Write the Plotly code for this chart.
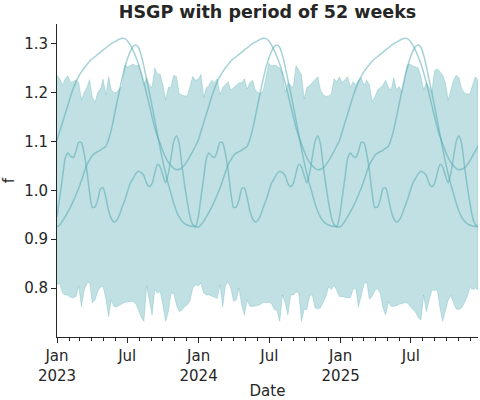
import pandas as pd
import plotly.graph_objects as go

# ---------------- data ----------------
n_weeks = 156
dates = pd.date_range("2023-01-01", periods=n_weeks, freq="W-SUN")

# band (upper / lower edge of the sample interval), read per week
band_upper = [
    1.235, 1.228, 1.215, 1.228, 1.234, 1.220, 1.222, 1.226, 1.220, 1.185,
    1.200, 1.210, 1.226, 1.190, 1.180, 1.200, 1.207, 1.227, 1.195, 1.232,
    1.205, 1.200, 1.200, 1.208, 1.212, 1.256, 1.252,
    1.255, 1.258, 1.254, 1.256, 1.237, 1.215, 1.230, 1.215, 1.210, 1.250,
    1.238, 1.237, 1.215, 1.185, 1.210, 1.212, 1.235, 1.232, 1.197, 1.195,
    1.193, 1.193, 1.213, 1.233, 1.225, 1.227, 1.237,
    1.190, 1.210, 1.215, 1.225, 1.220, 1.228, 1.195, 1.210, 1.215, 1.222,
    1.205, 1.210, 1.215,
    1.220, 1.220, 1.228, 1.207, 1.220, 1.225, 1.205, 1.200, 1.198, 1.205,
    1.230, 1.260, 1.254, 1.256, 1.254, 1.250, 1.240, 1.200, 1.220, 1.215,
    1.210, 1.255, 1.245, 1.236, 1.187, 1.210, 1.214, 1.220, 1.228, 1.232,
    1.205, 1.195, 1.192, 1.193, 1.197, 1.228, 1.222, 1.232, 1.220, 1.226,
    1.232, 1.210, 1.222, 1.215, 1.225, 1.230, 1.215, 1.225, 1.216, 1.182,
    1.190, 1.205, 1.210, 1.215, 1.225, 1.210, 1.205, 1.230, 1.205, 1.212,
    1.200, 1.225, 1.256, 1.258, 1.254, 1.252, 1.250, 1.232, 1.205, 1.220,
    1.210, 1.200, 1.245, 1.248, 1.243, 1.235, 1.220, 1.184, 1.205, 1.225,
    1.235, 1.230, 1.207, 1.199, 1.197, 1.197, 1.215, 1.232, 1.225,
]
band_lower = [
    0.807, 0.810, 0.790, 0.786, 0.786, 0.781, 0.780, 0.783, 0.805, 0.762,
    0.795, 0.810, 0.812, 0.770, 0.776, 0.793, 0.802, 0.803, 0.778, 0.742,
    0.776, 0.762, 0.762, 0.765, 0.768, 0.771, 0.772, 0.772, 0.773, 0.768,
    0.755, 0.740, 0.732, 0.805, 0.772, 0.745, 0.797, 0.790, 0.793, 0.765,
    0.732, 0.752, 0.790, 0.789, 0.765, 0.752, 0.755, 0.762, 0.766, 0.775,
    0.800, 0.807,
    0.805, 0.810, 0.790, 0.786, 0.786, 0.783, 0.781, 0.779, 0.807, 0.762,
    0.805, 0.813, 0.800, 0.773, 0.776,
    0.800, 0.765, 0.745, 0.776, 0.763, 0.7625, 0.763, 0.765, 0.767, 0.771,
    0.770, 0.771, 0.768, 0.756, 0.755, 0.732, 0.786, 0.770, 0.745, 0.786,
    0.786, 0.792, 0.790, 0.732, 0.756, 0.756, 0.785, 0.786, 0.760, 0.757,
    0.760, 0.770, 0.783, 0.803, 0.797, 0.806, 0.795, 0.783, 0.783, 0.781,
    0.780, 0.780, 0.797, 0.800, 0.762, 0.786, 0.807, 0.8135, 0.777, 0.783,
    0.795, 0.799, 0.790, 0.760, 0.745, 0.772, 0.763, 0.7625, 0.764, 0.767,
    0.769, 0.770, 0.770, 0.762, 0.756, 0.751, 0.740, 0.735, 0.786, 0.752,
    0.775, 0.796, 0.795, 0.797, 0.760, 0.732, 0.756, 0.775, 0.785, 0.770,
    0.757, 0.756, 0.760, 0.770, 0.782, 0.802, 0.797, 0.800, 0.797,
]

# three sample paths; each one repeats every 52 weeks (one cycle)
sample_a_cycle = [
    1.102, 1.120, 1.138, 1.156, 1.174, 1.192, 1.208, 1.222, 1.233, 1.242,
    1.250, 1.257, 1.264, 1.269, 1.273, 1.278, 1.282, 1.287, 1.291, 1.296,
    1.300, 1.303, 1.306, 1.309, 1.311, 1.310, 1.305, 1.297, 1.286, 1.273,
    1.258, 1.240, 1.220, 1.197, 1.174, 1.150, 1.128, 1.110, 1.095, 1.080,
    1.067, 1.057, 1.050, 1.045, 1.042, 1.043, 1.046, 1.052, 1.060, 1.070,
    1.080, 1.091,
]
sample_b_cycle = [
    0.925, 0.929, 0.937, 0.946, 0.956, 0.966, 0.978, 0.991, 1.004, 1.020,
    1.037, 1.052, 1.062, 1.071, 1.076, 1.079, 1.082, 1.086, 1.090, 1.104,
    1.124, 1.150, 1.177, 1.204, 1.230, 1.252, 1.270, 1.284, 1.294, 1.297,
    1.292, 1.276, 1.253, 1.226, 1.200, 1.172, 1.143, 1.114, 1.085, 1.058,
    1.034, 1.012, 0.993, 0.973, 0.957, 0.945, 0.937, 0.932, 0.929, 0.927,
    0.926, 0.925,
]
sample_c_cycle = [
    0.945, 0.985, 1.025, 1.065, 1.076, 1.070, 1.067, 1.080, 1.098, 1.097,
    1.075, 1.040, 0.995, 0.965, 0.966, 0.980, 1.003, 1.005, 0.985, 0.958,
    0.942, 0.935, 0.939, 0.950, 0.966, 0.980, 0.998, 1.015, 1.024, 1.034,
    1.039, 1.036, 1.030, 1.014, 1.007, 1.014, 1.035, 1.053, 1.048, 1.030,
    1.015, 1.035, 1.068, 1.100, 1.111, 1.095, 1.050, 1.010, 0.975, 0.945,
    0.930, 0.926,
]
n_cycles = 3
samples = [sample_a_cycle * n_cycles, sample_b_cycle * n_cycles, sample_c_cycle * n_cycles]

tick_dates = ["2023-01-01", "2023-07-01", "2024-01-01", "2024-07-01", "2025-01-01", "2025-07-01"]
tick_labels = ["Jan<br>2023", "Jul", "Jan<br>2024", "Jul", "Jan<br>2025", "Jul"]
y_ticks = [0.8, 0.9, 1.0, 1.1, 1.2, 1.3]

title_text = "HSGP with period of 52 weeks"

# ---------------- styles ----------------
base_rgb = "75,166,175"
fill_col = f"rgba({base_rgb},0.35)"
line_col = f"rgba({base_rgb},0.5)"
ink = "#262626"

fig = go.Figure()

poly_x = list(dates) + list(dates[::-1])
poly_y = list(band_upper) + list(band_lower[::-1])
fig.add_trace(go.Scatter(
    x=poly_x, y=poly_y, mode="lines", fill="toself",
    fillcolor=fill_col, line=dict(color=fill_col, width=0.8),
    hoverinfo="skip",
))

for s in samples:
    fig.add_trace(go.Scatter(
        x=dates, y=s, mode="lines",
        line=dict(color=line_col, width=1.5, shape="spline", smoothing=0.6),
    ))

fig.update_layout(
    width=480, height=400,
    margin=dict(l=57, r=2, t=24, b=63),
    paper_bgcolor="white", plot_bgcolor="white",
    showlegend=False,
    font=dict(family="DejaVu Sans", size=15, color=ink),
    title=dict(
        text=f"<b>{title_text}</b>", x=0.5, xref="paper", xanchor="center",
        y=1 - 11.5 / 400, yref="container", yanchor="middle",
        font=dict(size=17.5, color=ink, family="DejaVu Sans"),
    ),
    xaxis=dict(
        range=[dates[0], dates[-1]],
        showline=True, linecolor=ink, linewidth=1,
        ticks="outside", ticklen=5, tickwidth=1, tickcolor=ink,
        tickmode="array", tickvals=tick_dates, ticktext=tick_labels,
        minor=dict(ticks="outside", ticklen=3, tickwidth=0.8, tickcolor=ink,
                   dtick="M1", tick0="2023-01-01", showgrid=False),
        showgrid=False, zeroline=False,
        title=dict(text="Date", standoff=4, font=dict(size=15)),
        tickfont=dict(size=15),
    ),
    yaxis=dict(
        range=[0.70, 1.34],
        showline=True, linecolor=ink, linewidth=1,
        ticks="outside", ticklen=5, tickwidth=1, tickcolor=ink,
        tickmode="array", tickvals=y_ticks, ticktext=[f"{v:.1f}" for v in y_ticks],
        showgrid=False, zeroline=False,
        title=dict(text="f", standoff=10, font=dict(size=15)),
        tickfont=dict(size=15),
    ),
)

fig.write_html("out.html")
